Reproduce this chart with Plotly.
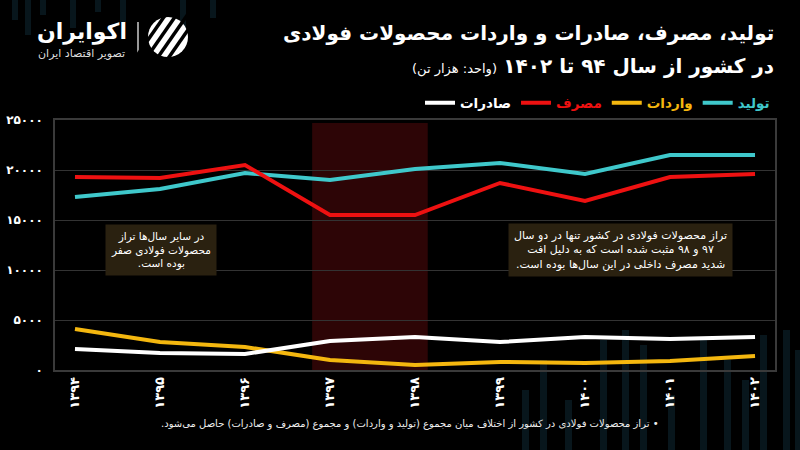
import plotly.graph_objects as go

# ---------------- data ----------------
years = ["۱۳۹۴", "۱۳۹۵", "۱۳۹۶", "۱۳۹۷", "۱۳۹۸", "۱۳۹۹", "۱۴۰۰", "۱۴۰۱", "۱۴۰۲"]
production = [17300, 18100, 19700, 19000, 20100, 20700, 19600, 21500, 21500]
consumption = [19300, 19200, 20500, 15500, 15500, 18700, 16900, 19300, 19600]
imports = [4100, 2800, 2300, 1000, 500, 800, 700, 900, 1400]
exports = [2100, 1700, 1600, 2900, 3300, 2800, 3300, 3100, 3300]

y_ticks = [0, 5000, 10000, 15000, 20000, 25000]
y_tick_labels = ["۰", "۵۰۰۰", "۱۰۰۰۰", "۱۵۰۰۰", "۲۰۰۰۰", "۲۵۰۰۰"]

series_names = ["تولید", "واردات", "مصرف", "صادرات"]
series_colors = ["#3fc8cb", "#f4b70f", "#ee1111", "#ffffff"]

highlight_years = ["۱۳۹۷", "۱۳۹۸"]

RLM = "\u200f"


def rtl(s):
    return "<br>".join(RLM + line + RLM for line in s.split("\n"))


FONT = "DejaVu Sans"

# plot area in pixels
L, R, T, B = 55, 775, 120, 370
W, H = 800, 450


def px(x):
    return (x - L) / (R - L)


def py(y):
    return (B - y) / (B - T)


fig = go.Figure()
for name, vals, col in zip(series_names, [production, imports, consumption, exports], series_colors):
    fig.add_trace(go.Scatter(
        x=years, y=vals, mode="lines", name=f"<span style='color:{col}'>{name}</span>",
        line=dict(color=col, width=4), hoverinfo="skip",
    ))

# highlighted years band
i0 = years.index(highlight_years[0])
i1 = years.index(highlight_years[1])
fig.add_shape(type="rect", xref="x", yref="y", x0=i0 - 0.21, x1=i1 + 0.15, y0=0, y1=24700,
              fillcolor="#2d0506", line_width=0, layer="below")

# decorative faint background bars
deco = [(522, 390), (540, 360), (565, 400), (600, 340), (622, 330), (640, 345), (668, 395),
        (700, 340), (724, 360), (742, 380), (760, 335), (783, 330), (795, 350)]
for xx, top in deco:
    fig.add_shape(type="rect", xref="paper", yref="paper", x0=px(xx), x1=px(xx + 7),
                  y0=py(top), y1=py(H), fillcolor="#08161c", line_width=0, layer="below")
deco_top = [(12, 20), (25, 35), (40, 15), (70, 28), (95, 12), (120, 22), (180, 30), (210, 18)]
for xx, bottom in deco_top:
    fig.add_shape(type="rect", xref="paper", yref="paper", x0=px(xx), x1=px(xx + 6),
                  y0=py(0), y1=py(bottom), fillcolor="#08161c", line_width=0, layer="below")

# logo
fig.add_shape(type="line", xref="paper", yref="paper", x0=px(138), x1=px(138), y0=py(22), y1=py(53),
              line=dict(color="#ffffff", width=1.2))
fig.add_shape(type="circle", xref="paper", yref="paper", x0=px(148), x1=px(188), y0=py(57), y1=py(17),
              fillcolor="#ffffff", line_width=0)
for k in range(4):
    off = -18 + k * 11
    fig.add_shape(type="line", xref="paper", yref="paper",
                  x0=px(146 + off + 6), x1=px(190 + off - 6), y0=py(60), y1=py(14),
                  line=dict(color="#000000", width=3.5))

annotations = [
    dict(x=px(82), y=py(32), text="<b>" + rtl("اکوایران") + "</b>", font=dict(size=22, color="white")),
    dict(x=px(81), y=py(53), text=rtl("تصویر اقتصاد ایران"), font=dict(size=11, color="#dddddd")),
    dict(x=px(776), y=py(33), xanchor="right",
         text="<b>" + rtl("تولید، مصرف، صادرات و واردات محصولات فولادی") + "</b>",
         font=dict(size=20, color="white")),
    dict(x=px(776), y=py(66), xanchor="right",
         text=RLM + "<b>در کشور از سال ۹۴ تا ۱۴۰۲</b> <span style='font-size:13px'>(واحد: هزار تن)</span>" + RLM,
         font=dict(size=20, color="white")),
    dict(x=px(161), y=py(249.5), text=rtl("در سایر سال‌ها تراز\nمحصولات فولادی صفر\nبوده است."),
         font=dict(size=10.5, color="white"), bgcolor="#2a2110", borderpad=5),
    dict(x=px(620), y=py(249.5),
         text=rtl("تراز محصولات فولادی در کشور تنها در دو سال\n۹۷ و ۹۸ مثبت شده است که به دلیل افت\nشدید مصرف داخلی در این سال‌ها بوده است."),
         font=dict(size=11, color="white"), bgcolor="#2a2110", borderpad=5),
    dict(x=px(410), y=py(424),
         text=rtl("• تراز محصولات فولادی در کشور از اختلاف میان مجموع (تولید و واردات) و مجموع (مصرف و صادرات) حاصل می‌شود."),
         font=dict(size=10, color="#eeeeee")),
]
for a in annotations:
    a.setdefault("xref", "paper")
    a.setdefault("yref", "paper")
    a.setdefault("showarrow", False)
    a.setdefault("xanchor", "center")
    a.setdefault("yanchor", "middle")
    fig.add_annotation(**a)

fig.update_layout(
    width=W, height=H,
    margin=dict(l=L, r=W - R, t=T, b=H - B, autoexpand=False),
    paper_bgcolor="#000000", plot_bgcolor="rgba(0,0,0,0)",
    font=dict(family=FONT, color="white"),
    showlegend=True,
    legend=dict(orientation="h", x=1.0, xanchor="right", y=py(103), yanchor="middle",
                traceorder="reversed", font=dict(size=13.5, weight="bold"),
                bgcolor="rgba(0,0,0,0)", itemwidth=30),
    xaxis=dict(type="category", range=[-0.235, len(years) - 1 + 0.235], automargin=False,
               showgrid=False, zeroline=False, showline=True, mirror=True,
               linecolor="#3a3a3a", linewidth=1.5, ticks="",
               tickangle=-90, tickfont=dict(size=13, color="white", weight="bold")),
    yaxis=dict(range=[0, 25000], tickvals=y_ticks, ticktext=y_tick_labels, automargin=False,
               showgrid=True, gridcolor="#333333", gridwidth=1, zeroline=False,
               showline=True, mirror=True, linecolor="#3a3a3a", linewidth=1.5, ticks="",
               ticklabelstandoff=8,
               tickfont=dict(size=12, color="white", weight="bold")),
)

fig.write_html(
    "out.html",
    config={"displayModeBar": False},
    post_script="document.body.style.margin='0px';document.body.style.background='#000000';"
                "document.body.style.overflow='hidden';",
)
